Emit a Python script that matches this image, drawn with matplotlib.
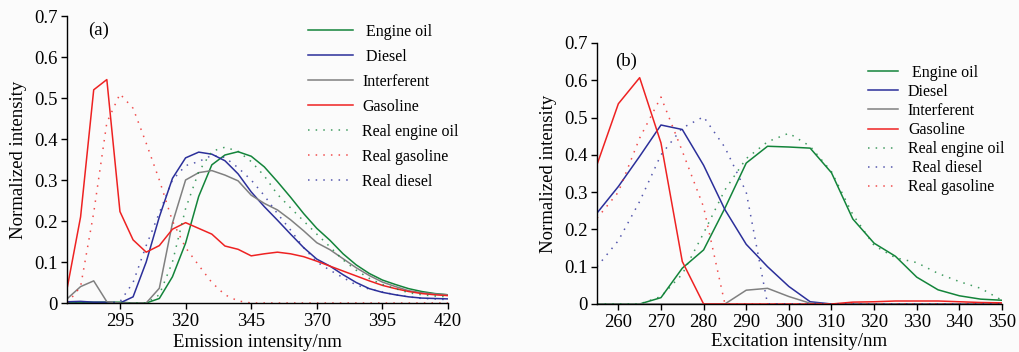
import matplotlib
matplotlib.use('Agg')
import matplotlib.pyplot as plt
from matplotlib.ticker import FuncFormatter

plt.rcParams['font.family'] = ['Liberation Serif', 'DejaVu Serif']

# (a) emission spectra
x_a = [275, 280, 285, 290, 295, 300, 305, 310, 315, 320, 325, 330, 335, 340, 345,
       350, 355, 360, 365, 370, 375, 380, 385, 390, 395, 400, 405, 410, 415, 420]
engine_a = [0.002, 0.002, 0.002, 0.002, 0.002, 0, 0, 0.011, 0.064, 0.146, 0.26, 0.337, 0.361, 0.369, 0.358,
            0.332, 0.296, 0.258, 0.218, 0.182, 0.153, 0.12, 0.093, 0.072, 0.056, 0.045, 0.035, 0.028, 0.023, 0.02]
diesel_a = [0.003, 0.004, 0.002, 0.002, 0, 0.015, 0.1, 0.21, 0.304, 0.354, 0.368, 0.363, 0.347, 0.315, 0.271,
            0.235, 0.202, 0.168, 0.135, 0.107, 0.09, 0.069, 0.05, 0.035, 0.026, 0.02, 0.015, 0.012, 0.011, 0.01]
interf_a = [0.011, 0.04, 0.054, 0.003, 0, 0, 0, 0.036, 0.195, 0.30, 0.318, 0.323, 0.312, 0.298, 0.263,
            0.243, 0.227, 0.203, 0.176, 0.147, 0.13, 0.108, 0.086, 0.067, 0.051, 0.04, 0.03, 0.025, 0.022, 0.02]
gasoline_a = [0.04, 0.21, 0.52, 0.545, 0.223, 0.154, 0.124, 0.14, 0.18, 0.196, 0.182, 0.168, 0.139, 0.131, 0.115,
              0.12, 0.124, 0.12, 0.113, 0.102, 0.09, 0.078, 0.066, 0.054, 0.043, 0.035, 0.028, 0.023, 0.02, 0.018]
real_engine_a = [0, 0, 0, 0, 0, 0, 0, 0.02, 0.1, 0.23, 0.32, 0.37, 0.38, 0.37, 0.345,
                 0.31, 0.265, 0.232, 0.2, 0.168, 0.137, 0.105, 0.08, 0.06, 0.045, 0.035, 0.025, 0.02, 0.017, 0.015]
real_gas_a = [0, 0.04, 0.22, 0.44, 0.51, 0.475, 0.39, 0.30, 0.2, 0.135, 0.092, 0.05, 0.02, 0.005, 0,
              0, 0, 0, 0, 0, 0, 0, 0, 0, 0, 0, 0, 0, 0, 0]
real_diesel_a = [0, 0, 0, 0, 0.003, 0.05, 0.14, 0.22, 0.3, 0.335, 0.345, 0.36, 0.355, 0.33, 0.3,
                 0.262, 0.218, 0.178, 0.135, 0.1, 0.08, 0.062, 0.044, 0.034, 0.027, 0.02, 0.015, 0.011, 0.01, 0.008]

# (b) excitation spectra
x_b = [255, 260, 265, 270, 275, 280, 285, 290, 295, 300, 305, 310, 315, 320, 325, 330, 335, 340, 345, 350]
engine_b = [0, 0, 0, 0.017, 0.096, 0.145, 0.257, 0.378, 0.423, 0.421, 0.418, 0.352, 0.228, 0.163, 0.128,
            0.072, 0.038, 0.022, 0.013, 0.01]
diesel_b = [0.244, 0.315, 0.396, 0.48, 0.468, 0.372, 0.253, 0.16, 0.1, 0.047, 0.006, 0, 0, 0, 0, 0, 0, 0, 0, 0]
interf_b = [0, 0, 0, 0, 0, 0, 0, 0.037, 0.042, 0.02, 0.002, 0, 0, 0, 0, 0, 0, 0, 0, 0]
gasoline_b = [0.374, 0.537, 0.607, 0.432, 0.114, 0, 0, 0, 0, 0, 0, 0, 0.005, 0.006, 0.008, 0.008, 0.008,
              0.006, 0.004, 0.003]
real_engine_b = [0, 0, 0, 0.02, 0.08, 0.19, 0.306, 0.39, 0.435, 0.458, 0.423, 0.355, 0.24, 0.157, 0.124,
                 0.111, 0.082, 0.06, 0.042, 0.01]
real_diesel_b = [0.1, 0.17, 0.275, 0.4, 0.472, 0.502, 0.42, 0.3, 0, 0, 0, 0, 0, 0, 0, 0, 0, 0, 0, 0]
real_gas_b = [0.23, 0.30, 0.445, 0.555, 0.41, 0.26, 0, 0, 0, 0, 0, 0, 0, 0, 0, 0, 0, 0, 0, 0]

GREEN = '#13843a'
BLUE = '#2b2f9a'
GREY = '#808080'
RED = '#ee2222'
DOT = (0, (1, 4))

fig = plt.figure(figsize=(10.19, 3.52), dpi=100, facecolor='#fbfbfb')
ax1 = fig.add_axes([0.0662, 0.1392, 0.3735, 0.8153])
ax2 = fig.add_axes([0.5859, 0.1364, 0.3974, 0.7415])

fmt = FuncFormatter(lambda v, _: '0' if abs(v) < 1e-9 else '%.1f' % v)


def style(ax):
    ax.set_facecolor('#fbfbfb')
    for s in ['top', 'right']:
        ax.spines[s].set_visible(False)
    for s in ['left', 'bottom']:
        ax.spines[s].set_linewidth(1.0)
    ax.tick_params(direction='out', length=4, width=1, labelsize=13.5, pad=3)
    ax.set_ylim(0, 0.7)
    ax.set_yticks([0, 0.1, 0.2, 0.3, 0.4, 0.5, 0.6, 0.7])
    ax.yaxis.set_major_formatter(fmt)
    ax.set_ylabel('Normalized intensity', fontsize=13.5, labelpad=5)


# panel (a)
ax1.plot(x_a, engine_a, color=GREEN, lw=1.1, label=' Engine oil')
ax1.plot(x_a, diesel_a, color=BLUE, lw=1.1, label=' Diesel')
ax1.plot(x_a, interf_a, color=GREY, lw=1.1, label='Interferent')
ax1.plot(x_a, gasoline_a, color=RED, lw=1.1, label='Gasoline')
ax1.plot(x_a, real_engine_a, color=GREEN, lw=1.1, ls=DOT, alpha=0.8, label='Real engine oil')
ax1.plot(x_a, real_gas_a, color=RED, lw=1.1, ls=DOT, alpha=0.8, label='Real gasoline')
ax1.plot(x_a, real_diesel_a, color=BLUE, lw=1.1, ls=DOT, alpha=0.8, label='Real diesel')
style(ax1)
ax1.set_xlim(275, 420)
ax1.set_xticks([295, 320, 345, 370, 395, 420])
ax1.set_xlabel('Emission intensity/nm', fontsize=13.5, labelpad=3)
ax1.text(0.055, 0.95, '(a)', transform=ax1.transAxes, fontsize=13.5, ha='left', va='center')
ax1.legend(loc='upper left', bbox_to_anchor=(308 / 1019, 1 - 24 / 352), bbox_transform=fig.transFigure,
           frameon=False, fontsize=11.5, handlelength=2.8, handletextpad=0.6, labelspacing=0.56,
           borderpad=0, borderaxespad=0)

# panel (b)
ax2.plot(x_b, engine_b, color=GREEN, lw=1.1, label=' Engine oil')
ax2.plot(x_b, diesel_b, color=BLUE, lw=1.1, label='Diesel')
ax2.plot(x_b, interf_b, color=GREY, lw=1.1, label='Interferent')
ax2.plot(x_b, gasoline_b, color=RED, lw=1.1, label='Gasoline')
ax2.plot(x_b, real_engine_b, color=GREEN, lw=1.1, ls=DOT, alpha=0.8, label='Real engine oil')
ax2.plot(x_b, real_diesel_b, color=BLUE, lw=1.1, ls=DOT, alpha=0.8, label=' Real diesel')
ax2.plot(x_b, real_gas_b, color=RED, lw=1.1, ls=DOT, alpha=0.8, label='Real gasoline')
style(ax2)
ax2.set_xlim(255, 350)
ax2.set_xticks([260, 270, 280, 290, 300, 310, 320, 330, 340, 350])
ax2.set_xlabel('Excitation intensity/nm', fontsize=13.5, labelpad=2)
ax2.text(0.045, 0.93, '(b)', transform=ax2.transAxes, fontsize=13.5, ha='left', va='center')
ax2.legend(loc='upper left', bbox_to_anchor=(868 / 1019, 1 - 65 / 352), bbox_transform=fig.transFigure,
           frameon=False, fontsize=11.5, handlelength=1.9, handletextpad=0.6, labelspacing=0.19,
           borderpad=0, borderaxespad=0)

fig.savefig('out.png', dpi=100, facecolor=fig.get_facecolor())
